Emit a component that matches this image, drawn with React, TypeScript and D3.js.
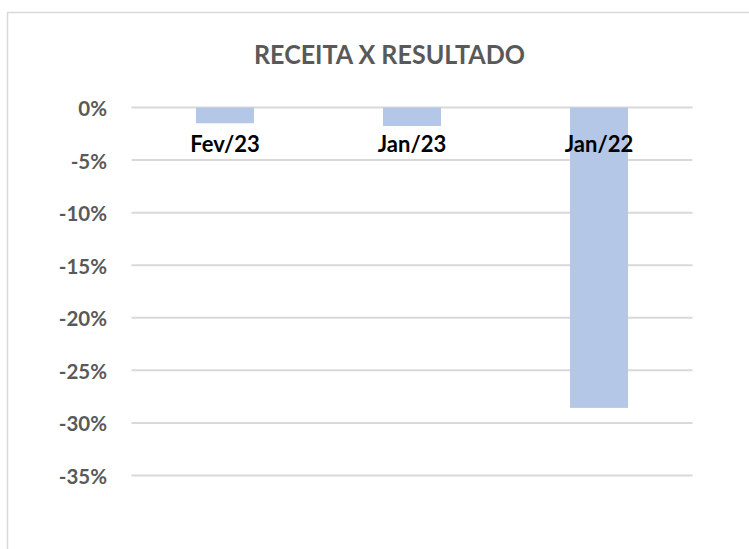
import React from "react";
import * as d3 from "d3";

const categories = ["Fev/23", "Jan/23", "Jan/22"];
const values = [-0.015, -0.0176, -0.2857];
const yTicks = [0, -0.05, -0.1, -0.15, -0.2, -0.25, -0.3, -0.35];
const title = "RECEITA X RESULTADO";

export default function App() {
  const W = 749, H = 549;
  const x = d3.scaleBand<string>().domain(categories).range([131.5, 692.5]).paddingInner(0.69).paddingOuter(0.345);
  const y = d3.scaleLinear().domain([0, -0.35]).range([107.5, 475.5]);
  const fmt = (v: number) => `${Math.round(v * 100)}%`;
  const font = "Lato, 'Open Sans', sans-serif";
  return (
    <svg width={W} height={H} style={{ position: "absolute", left: 0, top: 0, background: "#fff" }}>
      <rect x={7.5} y={12.5} width={800} height={600} fill="#fff" stroke="#d9d9d9" strokeWidth={1.5} />
      <text x={389.5} y={63.5} textAnchor="middle" fontFamily={font} fontWeight="bold" fontSize={26}
        fill="#595959" textLength={271} lengthAdjust="spacingAndGlyphs">{title}</text>
      {yTicks.map((t) => (
        <g key={t}>
          <line x1={131.5} x2={692.5} y1={y(t)} y2={y(t)} stroke="#d9d9d9" strokeWidth={2} />
          <text x={107} y={y(t) + 8.5} textAnchor="end" fontFamily={font} fontWeight="bold" fontSize={20.5} fill="#595959">
            {fmt(t)}
          </text>
        </g>
      ))}
      {categories.map((c, i) => (
        <rect key={c} x={x(c)} y={y(0)} width={x.bandwidth()} height={y(values[i]) - y(0)} fill="#b4c7e7" />
      ))}
      {categories.map((c) => (
        <text key={c} x={(x(c) as number) + x.bandwidth() / 2} y={151.5} textAnchor="middle" fontFamily={font}
          fontWeight="bold" fontSize={22} fill="#000">{c}</text>
      ))}
    </svg>
  );
}
